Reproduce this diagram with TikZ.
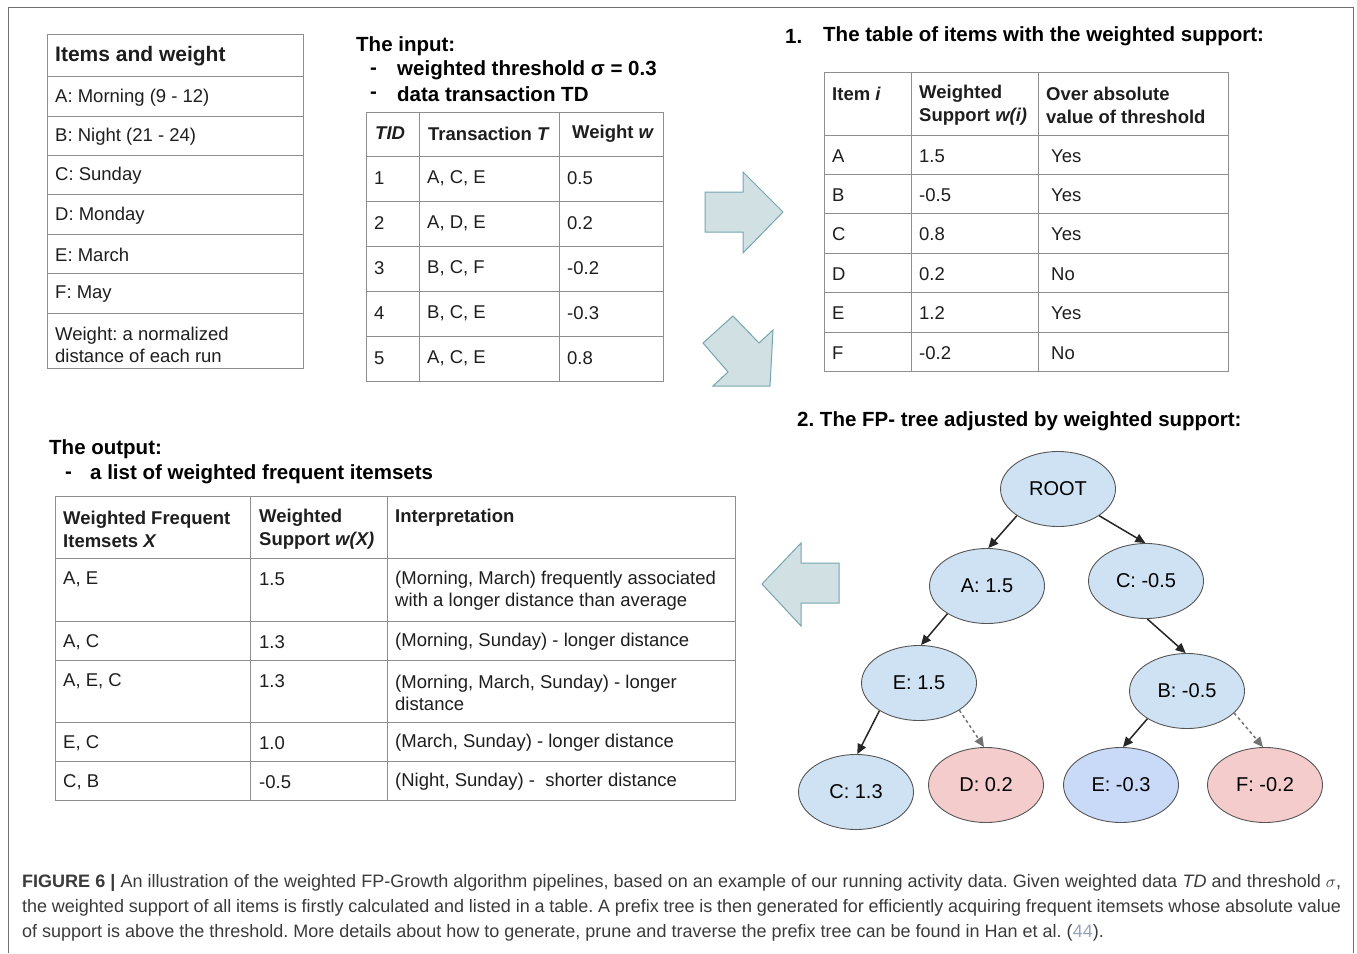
\documentclass[tikz,border=0pt]{standalone}
\usepackage{fontspec}
\setmainfont{Liberation Sans}
\usetikzlibrary{arrows.meta,shapes.geometric}
\definecolor{ink}{HTML}{1E1E1E}
\definecolor{rulec}{HTML}{8E8E8E}
\definecolor{frmc}{HTML}{707070}
\definecolor{nblue}{HTML}{CFE2F3}
\definecolor{nblue2}{HTML}{C9DAF8}
\definecolor{nred}{HTML}{F4CCCC}
\definecolor{nline}{HTML}{555555}
\definecolor{afill}{HTML}{D0E0E3}
\definecolor{aline}{HTML}{76A5AF}
\definecolor{capc}{HTML}{3A3A3A}
\definecolor{refc}{HTML}{98A4BA}
\frenchspacing
\newcommand{\cellsz}{\fontsize{18.5}{22}\selectfont}
\newcommand{\headsz}{\fontsize{18.5}{23}\selectfont\bfseries}
\newcommand{\titlesz}{\fontsize{20.5}{25}\selectfont\bfseries}
\newcommand{\treesz}{\fontsize{20}{24}\selectfont}
\newcommand{\capsz}{\fontsize{18}{21}\selectfont}
\tikzset{
  tline/.style={draw=rulec,line width=1pt},
  frm/.style={draw=frmc,line width=1pt},
  cell/.style={anchor=west,inner sep=0pt,align=left,text=ink,font=\cellsz,yshift=-1.5pt},
  hcell/.style={cell,font=\headsz},
  ttl/.style={anchor=west,inner sep=0pt,align=left,text=black,font=\titlesz,yshift=-1.5pt},
  tnode/.style={ellipse,draw=nline,line width=0.9pt,fill=nblue,minimum width=115pt,minimum height=75pt,inner sep=0pt,font=\treesz},
  tnode2/.style={tnode,fill=nblue2},
  rnode/.style={tnode,fill=nred},
  tarr/.style={-{Triangle[length=10pt,width=9pt]},line width=1.5pt,draw=black!85},
  parr/.style={tarr,dashed,draw=black!55},
  blk/.style={draw=aline,fill=afill,line width=1pt,line join=miter},
  capline/.style={anchor=west,inner sep=0pt,text=capc,font=\capsz,yshift=-1pt},
}

\begin{document}
\begin{tikzpicture}[x=1pt,y=-1pt]
  \useasboundingbox (0,0) rectangle (1357,953);
  \draw[frm] (8,953) -- (8,7) -- (1353,7) -- (1353,953);

  % items and weight
  \draw[tline] (47,34) rectangle (303,368);
  \foreach \y in {76,116,155,194,234,273,313} \draw[tline] (47,\y) -- (303,\y);
  \node[cell,font=\fontsize{21}{25}\selectfont\bfseries] (iwh) at (55,55) {Items and weight};
  \foreach \y/\t [count=\i] in {96/A: Morning (9 - 12),135.5/B: Night (21 - 24),174.5/C: Sunday,
      214/D: Monday,253.5/E: March,293/F: May}
    \node[cell] (iw\i) at (55,\y) {\t};
  \node[cell] (iww) at (55,343) {Weight: a normalized\\distance of each run};

  % input
  \node[ttl] (inp) at (356,45) {The input:};
  \node[ttl] (inpd1) at (370,70) {-};
  \node[ttl] (inp1) at (397,69) {weighted threshold σ = 0.3};
  \node[ttl] (inpd2) at (370,94) {-};
  \node[ttl] (inp2) at (397,93) {data transaction TD};
  \draw[tline] (366,112) rectangle (663,381);
  \foreach \y in {156,201,246,291,336} \draw[tline] (366,\y) -- (663,\y);
  \foreach \x in {419,559} \draw[tline] (\x,112) -- (\x,381);
  \node[hcell] (tdh1) at (375,132) {\textit{TID}};
  \node[hcell] (tdh2) at (428,132) {Transaction \textit{T}};
  \node[hcell] (tdh3) at (572,132) {Weight \textit{w}};
  \foreach \y/\id/\tr/\w in {176.5/1/{A, C, E}/0.5,221.5/2/{A, D, E}/0.2,266.5/3/{B, C, F}/-0.2,
      311.5/4/{B, C, E}/-0.3,356.5/5/{A, C, E}/0.8} {
    \node[cell] (td\id) at (374,\y) {\id};
    \node[cell] (tt\id) at (427,\y) {\tr};
    \node[cell] (tw\id) at (567,\y) {\w};
  }

  % 1. weighted support table
  \node[ttl] (s1n) at (785,35) {1.};
  \node[ttl] (s1) at (823,35) {The table of items with the weighted support:};
  \draw[tline] (824,72) rectangle (1228,371);
  \foreach \y in {135,174,213,253,292,332} \draw[tline] (824,\y) -- (1228,\y);
  \foreach \x in {911,1038} \draw[tline] (\x,72) -- (\x,371);
  \node[hcell] (wsh1) at (832,92) {Item \textit{i}};
  \node[hcell] (wsh2) at (919,103.5) {Weighted\\Support \textit{w(i)}};
  \node[hcell] (wsh3) at (1046,103.5) {Over absolute\\value of threshold};
  \foreach \y/\it/\ws/\ov in {154.5/A/1.5/Yes,193.5/B/-0.5/Yes,233/C/0.8/Yes,
      272.5/D/0.2/No,312/E/1.2/Yes,351.5/F/-0.2/No} {
    \node[cell] (wi\it) at (832,\y) {\it};
    \node[cell] (ws\it) at (919,\y) {\ws};
    \node[cell] (wo\it) at (1051,\y) {\ov};
  }

  % big arrows
  \draw[blk] (705,192) -- (743,192) -- (743,172) -- (783,212) -- (743,253) -- (743,232) -- (705,232) -- cycle;
  \draw[blk] (733,316) -- (759,343) -- (773,330) -- (770,386) -- (713,386) -- (728,372) -- (703,343) -- cycle;
  \draw[blk] (762,584) -- (801,543) -- (801,563) -- (839,563) -- (839,603) -- (801,603) -- (801,626) -- cycle;

  % 2. FP-tree
  \node[ttl] (s2) at (797,420) {2. The FP- tree adjusted by weighted support:};
  \node[tnode] (root) at (1058,489) {ROOT};
  \node[tnode] (nA) at (987,586) {A: 1.5};
  \node[tnode] (nC) at (1146,581) {C: -0.5};
  \node[tnode] (nE) at (919,683) {E: 1.5};
  \node[tnode] (nB) at (1187,691) {B: -0.5};
  \node[tnode] (nC2) at (856,792) {C: 1.3};
  \node[rnode] (nD) at (986,785) {D: 0.2};
  \node[tnode2] (nE2) at (1121,785) {E: -0.3};
  \node[rnode] (nF) at (1265,785) {F: -0.2};
  \draw[tarr] (root.213) -- (nA.88);
  \draw[tarr] (root.327) -- (nC.91);
  \draw[tarr] (nA.215) -- (nE.87);
  \draw[tarr] (nC.272) -- (nB.92);
  \draw[tarr] (nE.215) -- (nC2.88);
  \draw[parr] (nE.326) -- (nD.93);
  \draw[tarr] (nB.215) -- (nE2.87);
  \draw[parr] (nB.335) -- (nF.93);

  % output
  \node[ttl] (outp) at (49,448) {The output:};
  \node[ttl] (outd) at (65,474) {-};
  \node[ttl] (out1) at (90,473) {a list of weighted frequent itemsets};
  \draw[tline] (55,496) rectangle (735,800);
  \foreach \y in {558,621,660,722,761} \draw[tline] (55,\y) -- (735,\y);
  \foreach \x in {250,387} \draw[tline] (\x,496) -- (\x,800);
  \node[hcell] (fih1) at (63,527.5) {Weighted Frequent\\Itemsets \textit{X}};
  \node[hcell] (fih2) at (259,527.5) {Weighted\\Support \textit{w(X)}};
  \node[hcell] (fih3) at (395,516) {Interpretation};
  \node[cell] (fi1) at (63,578) {A, E};
  \node[cell] (fs1) at (259,578) {1.5};
  \node[cell] (fx1) at (395,589) {(Morning, March) frequently associated\\with a longer distance than average};
  \node[cell] (fi2) at (63,640.5) {A, C};
  \node[cell] (fs2) at (259,640.5) {1.3};
  \node[cell] (fx2) at (395,640.5) {(Morning, Sunday) - longer distance};
  \node[cell] (fi3) at (63,680) {A, E, C};
  \node[cell] (fs3) at (259,680) {1.3};
  \node[cell] (fx3) at (395,691) {(Morning, March, Sunday) - longer\\distance};
  \node[cell] (fi4) at (63,741.5) {E, C};
  \node[cell] (fs4) at (259,741.5) {1.0};
  \node[cell] (fx4) at (395,741.5) {(March, Sunday) - longer distance};
  \node[cell] (fi5) at (63,780.5) {C, B};
  \node[cell] (fs5) at (259,780.5) {-0.5};
  \node[cell] (fx5) at (395,780.5) {(Night, Sunday) -\ \ shorter distance};

  % caption
  \node[capline] (cap1) at (22,882) {\makebox[1319pt][s]{\textbf{FIGURE 6 |} An illustration of the weighted FP-Growth algorithm pipelines, based on an example of our running activity data. Given weighted data \textit{TD} and threshold $\sigma$,}};
  \node[capline] (cap2) at (22,907) {\makebox[1319pt][s]{the weighted support of all items is firstly calculated and listed in a table. A prefix tree is then generated for efficiently acquiring frequent itemsets whose absolute value}};
  \node[capline] (cap3) at (22,932) {of support is above the threshold. More details about how to generate, prune and traverse the prefix tree can be found in Han et al. ({\color{refc}44}).};
\end{tikzpicture}
\end{document}
